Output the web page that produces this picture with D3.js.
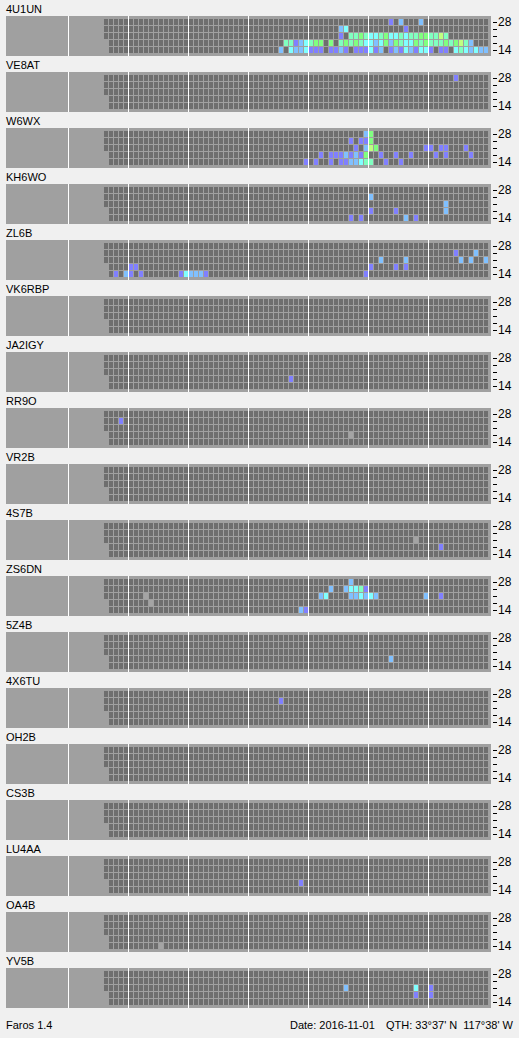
<!DOCTYPE html>
<html>
<head>
<meta charset="utf-8">
<script src="https://cdn.jsdelivr.net/npm/d3@7"></script>
<style>
body { margin: 0; background: #f0f0f0; }
svg text { font-family: "Liberation Sans", Arial, sans-serif; font-size: 11px; fill: #000; }
</style>
</head>
<body>
<svg id="chart" width="519" height="1038"></svg>
<script>
// bands, top row first
var bands = [28, 24, 21, 18, 14];
var bandLabels = {28: "28", 14: "14"};
var nCols = 77;                       // 5-minute slots
var firstCol = [0, 0, 0, 1, 1];       // 18 and 14 start one slot later
var hourStarts = [-7, 5, 17, 29, 41, 53, 65];

// signal level codes -> colours
var levelColors = {
    "1": "#8080ff", "2": "#80c0ff", "3": "#80ffff",
    "4": "#80ffc0", "5": "#80ff80", "6": "#c0ff80", "g": "#a4a4a4"
};

var stations = ["4U1UN", "VE8AT", "W6WX", "KH6WO", "ZL6B", "VK6RBP", "JA2IGY", "RR9O", "VR2B",
                "4S7B", "ZS6DN", "5Z4B", "4X6TU", "OH2B", "CS3B", "LU4AA", "OA4B", "YV5B"];

// per station, per band (28..14): "startCol:levels" runs, '.' = nothing heard
var heard = {
    "4U1UN": ["57:1.2...2",
              "47:23 60:1",
              "47:1.44543345334344554464",
              "36:44123455.5.454543323525433545444545642",
              "35:2.3223111.1121.111312.121321331.11.3432322"],
    "VE8AT": ["70:1", "", "", "", ""],
    "W6WX":  ["52:25",
              "49:1.115",
              "50:1.265 64:11.11 72:1",
              "43:1.11121215 55:1..1 61:1 66:1.1 73:1",
              "40:1.1..1.1122344 56:1..1"],
    "KH6WO": ["", "53:2", "68:2", "53:1 58:1 68:2", "49:1.1 60:2.1"],
    "ZL6B":  ["", "70:1 74:2", "55:2 60:2 71:2.2 76:2", "5:11 53:1 58:1 60:1", "2:1.21.1 15:132221 52:1"],
    "VK6RBP": ["", "", "", "", ""],
    "JA2IGY": ["", "", "", "37:1", ""],
    "RR9O":  ["", "3:1", "", "49:g", ""],
    "VR2B":  ["", "", "", "", ""],
    "4S7B":  ["", "", "62:g", "67:1", ""],
    "ZS6DN": ["49:2", "45:2..2334 52:1", "8:g 43:23 49:223232 64:2 67:1", "9:g", "39:21"],
    "5Z4B":  ["", "", "", "57:2", ""],
    "4X6TU": ["", "35:1", "", "", ""],
    "OH2B":  ["", "", "", "", ""],
    "CS3B":  ["", "", "", "", ""],
    "LU4AA": ["", "", "", "39:1", ""],
    "OA4B":  ["", "", "", "", "11:g"],
    "YV5B":  ["", "", "48:2 62:3 65:1", "62:1 65:1", ""]
};

var footerLeft = "Faros 1.4";
var footerDate = "Date: 2016-11-01";
var footerQth = "QTH: 33\u00b037' N";
var footerLon = "117\u00b038' W";

function parseRuns(str) {
    var out = [];
    if (!str) return out;
    str.split(" ").forEach(function(seg) {
        var p = seg.split(":");
        var start = +p[0];
        p[1].split("").forEach(function(c, i) {
            if (c !== "." && start + i < nCols) out.push({col: start + i, level: c});
        });
    });
    return out;
}

var svg = d3.select("#chart");

var panelTop = 16, panelStep = 56, panelH = 40;
var panelLeft = 6, panelRight = 491;

var x = d3.scaleBand()
    .domain(d3.range(nCols))
    .range([104, 488])
    .paddingInner(0.2);
var xLine = d3.scaleLinear()
    .domain([0, nCols])
    .range([104, 104 + x.step() * nCols]);
var y = d3.scaleBand()
    .domain(bands)
    .range([3, 37])
    .paddingInner(1 / 7);

var panels = svg.selectAll("g.panel")
    .data(stations)
    .enter()
    .append("g")
    .attr("class", "panel")
    .attr("transform", function(d, i) { return "translate(0," + (panelTop + i * panelStep) + ")"; });

panels.append("text")
    .attr("x", panelLeft)
    .attr("y", -3)
    .text(function(d) { return d; });

panels.append("rect")
    .attr("x", panelLeft)
    .attr("y", 0)
    .attr("width", panelRight - panelLeft)
    .attr("height", panelH)
    .attr("fill", "#a0a0a0");

// hour separators
panels.selectAll("line.hour")
    .data(hourStarts)
    .enter()
    .append("line")
    .attr("class", "hour")
    .attr("x1", function(d) { return xLine(d) - 0.5; })
    .attr("x2", function(d) { return xLine(d) - 0.5; })
    .attr("y1", 0)
    .attr("y2", panelH)
    .attr("stroke", "#fff")
    .attr("stroke-width", 1);

// empty grid + heard slots
panels.each(function(name) {
    var g = d3.select(this);
    var cells = [];
    bands.forEach(function(b, r) {
        for (var c = firstCol[r]; c < nCols; c++) cells.push({band: b, col: c});
    });
    g.selectAll("rect.cell")
        .data(cells)
        .enter()
        .append("rect")
        .attr("class", "cell")
        .attr("x", function(d) { return x(d.col); })
        .attr("y", function(d) { return y(d.band); })
        .attr("width", x.bandwidth())
        .attr("height", y.bandwidth())
        .attr("fill", "#6e6e6e");

    var hits = [];
    heard[name].forEach(function(s, r) {
        parseRuns(s).forEach(function(h) {
            hits.push({band: bands[r], col: h.col, level: h.level});
        });
    });
    g.selectAll("rect.hit")
        .data(hits)
        .enter()
        .append("rect")
        .attr("class", "hit")
        .attr("x", function(d) { return x(d.col); })
        .attr("y", function(d) { return y(d.band); })
        .attr("width", x.bandwidth())
        .attr("height", y.bandwidth())
        .attr("fill", function(d) { return levelColors[d.level]; });

    var axis = d3.axisRight(y)
        .tickSize(4)
        .tickPadding(1)
        .tickFormat(function(d) { return bandLabels[d] || ""; });
    var ax = g.append("g")
        .attr("transform", "translate(493,0)")
        .call(axis);
    ax.select(".domain").remove();
    ax.selectAll("line").attr("stroke", "#000").attr("transform", "translate(0,0.5)");
    ax.selectAll("text")
        .attr("fill", "#000")
        .style("font-family", "\"Liberation Sans\", Arial, sans-serif")
        .style("font-size", "12px");
});

svg.append("text").attr("x", 6).attr("y", 1029).text(footerLeft);
svg.append("text").attr("x", 290).attr("y", 1029).text(footerDate);
svg.append("text").attr("x", 386).attr("y", 1029).text(footerQth);
svg.append("text").attr("x", 513).attr("y", 1029).attr("text-anchor", "end").text(footerLon);
</script>
</body>
</html>
